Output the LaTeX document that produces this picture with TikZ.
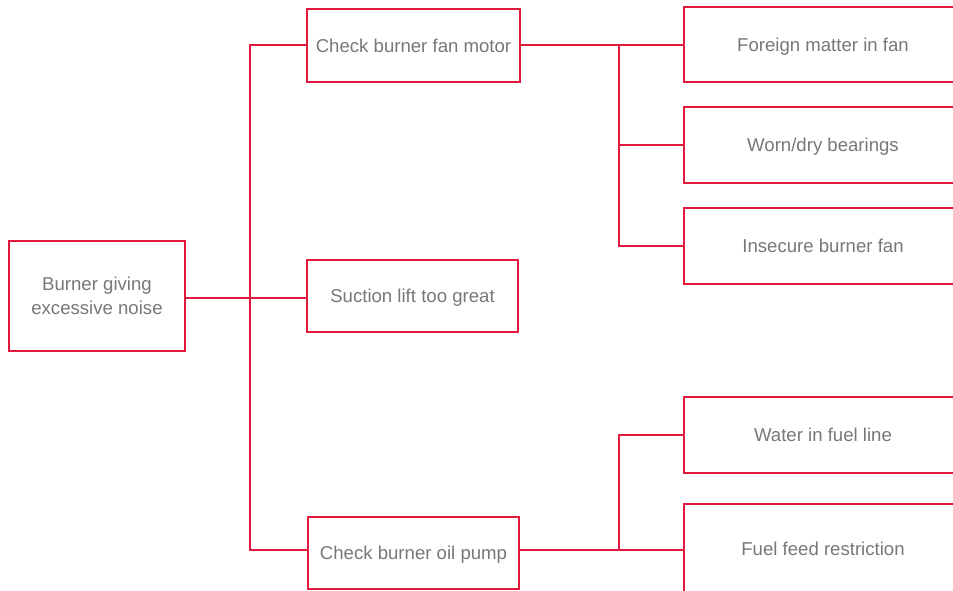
\documentclass[tikz,border=0pt]{standalone}
\usepackage{fontspec}
\setmainfont{Liberation Sans}
\definecolor{linered}{HTML}{E2193F}
\definecolor{txtgray}{HTML}{787878}
\begin{document}
\begin{tikzpicture}[x=1pt,y=-1pt,
  box/.style={draw=linered, line width=1.1pt, inner sep=0pt, text=txtgray,
    font=\fontsize{18.6}{24}\selectfont, align=center, text depth=0pt},
  conn/.style={draw=linered, line width=1.1pt}]
\useasboundingbox (0,0) rectangle (953,590);
\clip (0,0) rectangle (953,590);
\fill[white] (0,0) rectangle (953,590);
\node[box, minimum width=176pt, minimum height=110pt] (root) at (97,296) {Burner giving\\excessive noise};
\node[box, minimum width=213pt, minimum height=73pt] (fan) at (413.5,45.5) {Check burner fan motor};
\node[box, minimum width=211pt, minimum height=72pt] (suction) at (412.5,296) {Suction lift too great};
\node[box, minimum width=211pt, minimum height=72pt] (pump) at (413.5,553) {Check burner oil pump};
\node[box, minimum width=278pt, minimum height=75pt] (foreign) at (823,44.5) {Foreign matter in fan};
\node[box, minimum width=278pt, minimum height=76pt] (worn) at (823,145) {Worn/dry bearings};
\node[box, minimum width=278pt, minimum height=76pt] (insecure) at (823,246) {Insecure burner fan};
\node[box, minimum width=278pt, minimum height=76pt] (water) at (823,435) {Water in fuel line};
\node[box, minimum width=278pt, minimum height=90pt] (fuel) at (823,549) {Fuel feed restriction};
\coordinate (j1) at (250,298);
\coordinate (j2) at (619,45);
\coordinate (j3) at (619,550);
\draw[conn] (root.east |- j1) -- (j1);
\draw[conn] (j1) |- (fan.west |- j2);
\draw[conn] (j1) |- (pump.west |- j3);
\draw[conn] (j1) -- (suction.west |- j1);
\draw[conn] (fan.east |- j2) -- (foreign.west |- j2);
\draw[conn] (j2) |- (worn.west);
\draw[conn] (j2) |- (insecure.west);
\draw[conn] (pump.east |- j3) -- (fuel.west |- j3);
\draw[conn] (j3) |- (water.west);
\end{tikzpicture}
\end{document}
